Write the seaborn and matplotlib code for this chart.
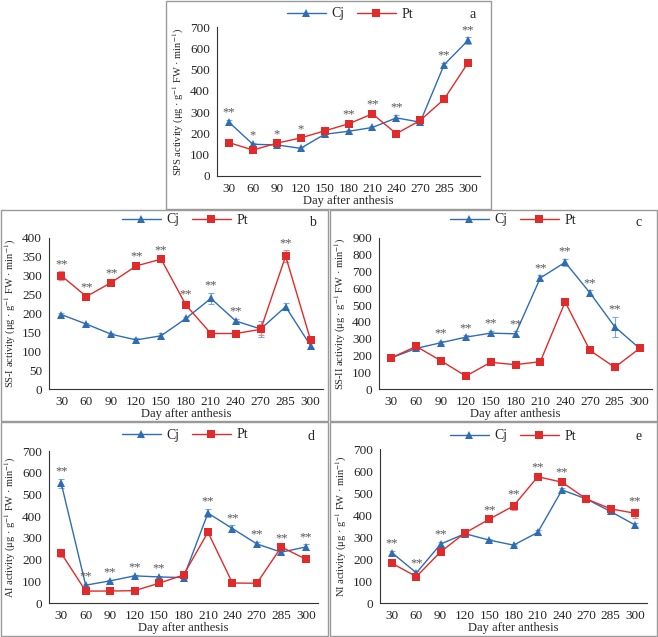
import numpy as np
import pandas as pd
import matplotlib
matplotlib.use("Agg")
import matplotlib.pyplot as plt
import seaborn as sns
from matplotlib.patches import Rectangle
from matplotlib.lines import Line2D

days = ["30", "60", "90", "120", "150", "180", "210", "240", "270", "285", "300"]

# SPS
sps_cj = [253, 149, 146, 130, 196, 210, 228, 273, 253, 523, 637]
sps_pt = [157, 122, 154, 179, 212, 245, 292, 199, 261, 361, 532]
sps_cj_err = [10, 8, 6, 6, 6, 6, 8, 15, 15, 8, 15]
sps_pt_err = [6, 6, 6, 6, 6, 8, 8, 6, 10, 15, 8]
sps_sig = ["**", "*", "*", "*", "", "**", "**", "**", "", "**", "**"]

# SS-I
ss1_cj = [197, 172, 145, 130, 141, 187, 240, 180, 159, 218, 115]
ss1_pt = [300, 245, 282, 326, 344, 222, 147, 147, 158, 352, 130]
ss1_cj_err = [4, 4, 4, 5, 8, 5, 15, 5, 20, 10, 6]
ss1_pt_err = [12, 5, 6, 6, 5, 8, 4, 4, 15, 15, 8]
ss1_sig = ["**", "**", "**", "**", "**", "**", "**", "**", "", "**", ""]

# SS-II
ss2_cj = [186, 242, 276, 309, 333, 329, 662, 755, 573, 371, 242]
ss2_pt = [186, 254, 168, 77, 159, 145, 163, 519, 230, 129, 242]
ss2_cj_err = [8, 8, 10, 10, 15, 15, 15, 20, 15, 60, 8]
ss2_pt_err = [8, 10, 8, 8, 8, 8, 8, 10, 10, 8, 8]
ss2_sig = ["", "", "**", "**", "**", "**", "**", "**", "**", "**", ""]

# AI
ai_cj = [551, 82, 102, 125, 120, 117, 414, 343, 272, 234, 258]
ai_pt = [229, 55, 55, 57, 91, 129, 326, 92, 91, 258, 202]
ai_cj_err = [20, 6, 6, 6, 6, 6, 20, 15, 8, 10, 12]
ai_pt_err = [15, 5, 5, 5, 5, 8, 15, 5, 5, 8, 6]
ai_sig = ["**", "**", "**", "**", "**", "", "**", "**", "**", "**", "**"]

# NI
ni_cj = [228, 137, 268, 315, 286, 263, 321, 514, 473, 416, 355]
ni_pt = [180, 120, 233, 318, 381, 441, 574, 549, 473, 428, 408]
ni_cj_err = [10, 8, 10, 8, 6, 6, 12, 10, 10, 8, 8]
ni_pt_err = [6, 8, 10, 8, 8, 20, 8, 10, 12, 15, 20]
ni_sig = ["**", "**", "**", "", "**", "**", "**", "**", "", "", "**"]

blue = "#2E6DB4"
red = "#E02B2A"

sns.set_style("white")
plt.rcParams["font.family"] = ["Liberation Serif", "DejaVu Serif"]
plt.rcParams["mathtext.fontset"] = "stix"

W, H = 658, 637
fig = plt.figure(figsize=(W / 100, H / 100), dpi=100)


def box(x0, y0, x1, y1):
    fig.patches.append(Rectangle((x0 / W, 1 - y1 / H), (x1 - x0) / W, (y1 - y0) / H,
                                 transform=fig.transFigure, fill=False,
                                 edgecolor="#9a9a9a", lw=1.0))


def panel(rect_px, cj, pt, cj_err, pt_err, sig, ymax, ystep, name, letter, leg_xy, let_xy):
    x0, y0, x1, y1 = rect_px
    ax = fig.add_axes([x0 / W, 1 - y1 / H, (x1 - x0) / W, (y1 - y0) / H])
    pos = np.arange(len(days))
    df = pd.DataFrame({
        "pos": np.concatenate([pos, pos]),
        "value": cj + pt,
        "cultivar": ["Cj"] * len(cj) + ["Pt"] * len(pt),
    })
    ax.errorbar(pos, cj, yerr=cj_err, fmt="none", ecolor="#7fa8d6", elinewidth=0.8, capsize=2.5, capthick=0.8)
    ax.errorbar(pos, pt, yerr=pt_err, fmt="none", ecolor="#ee8a8a", elinewidth=0.8, capsize=2.5, capthick=0.8)
    sns.lineplot(data=df, x="pos", y="value", hue="cultivar", style="cultivar",
                 palette={"Cj": blue, "Pt": red}, markers={"Cj": "^", "Pt": "s"},
                 dashes=False, markersize=6, markeredgewidth=0, linewidth=1.0,
                 legend=False, ax=ax)
    for i, s in enumerate(sig):
        if s:
            top = max(cj[i] + cj_err[i], pt[i] + pt_err[i])
            ax.annotate(s, (pos[i], top), xytext=(0, 1), textcoords="offset points",
                        ha="center", va="bottom", fontsize=9, color="#555555")
    ax.set_xlim(-0.5, len(days) - 0.5)
    ax.set_ylim(0, ymax)
    ax.set_xticks(pos)
    ax.set_xticklabels(days)
    ax.set_yticks(np.arange(0, ymax + 1, ystep))
    ax.tick_params(axis="both", direction="in", length=3, width=0.8, labelsize=9.5, pad=5, color="#333333")
    for sp in ["top", "right"]:
        ax.spines[sp].set_visible(False)
    for sp in ["left", "bottom"]:
        ax.spines[sp].set_color("#333333")
        ax.spines[sp].set_linewidth(0.8)
    ax.set_xlabel("Day after anthesis", fontsize=9, labelpad=0)
    ax.set_ylabel(name + r" activity (μg · g$^{-1}$ FW · min$^{-1}$)", fontsize=7.5, labelpad=3)
    handles = [Line2D([], [], color=blue, marker="^", markersize=6, lw=1.0, markeredgewidth=0),
               Line2D([], [], color=red, marker="s", markersize=6, lw=1.0, markeredgewidth=0)]
    fig.legend(handles, ["Cj", "Pt"], loc="center", ncol=2, frameon=False,
               bbox_to_anchor=(leg_xy[0] / W, 1 - leg_xy[1] / H), fontsize=10,
               handlelength=2.8, columnspacing=0.9, handletextpad=0.4)
    fig.text(let_xy[0] / W, 1 - let_xy[1] / H, letter, fontsize=10, ha="center", va="center")
    return ax


box(166, 1, 491, 209)
box(1, 210, 328, 421)
box(330, 210, 657, 421)
box(1, 422, 328, 636)
box(330, 422, 657, 636)

panel((217, 27, 480, 176), sps_cj, sps_pt, sps_cj_err, sps_pt_err, sps_sig, 700, 100, "SPS", "a", (350, 14), (473, 14))
panel((49, 238, 323, 389), ss1_cj, ss1_pt, ss1_cj_err, ss1_pt_err, ss1_sig, 400, 50, "SS-I", "b", (185, 220), (312, 222))
panel((379, 238, 652, 389), ss2_cj, ss2_pt, ss2_cj_err, ss2_pt_err, ss2_sig, 900, 100, "SS-II", "c", (513, 220), (639, 222))
panel((49, 451, 318, 603), ai_cj, ai_pt, ai_cj_err, ai_pt_err, ai_sig, 700, 100, "AI", "d", (185, 435), (311, 437))
panel((380, 449, 647, 603), ni_cj, ni_pt, ni_cj_err, ni_pt_err, ni_sig, 700, 100, "NI", "e", (513, 436), (639, 437))

fig.savefig("out.png", dpi=100)
